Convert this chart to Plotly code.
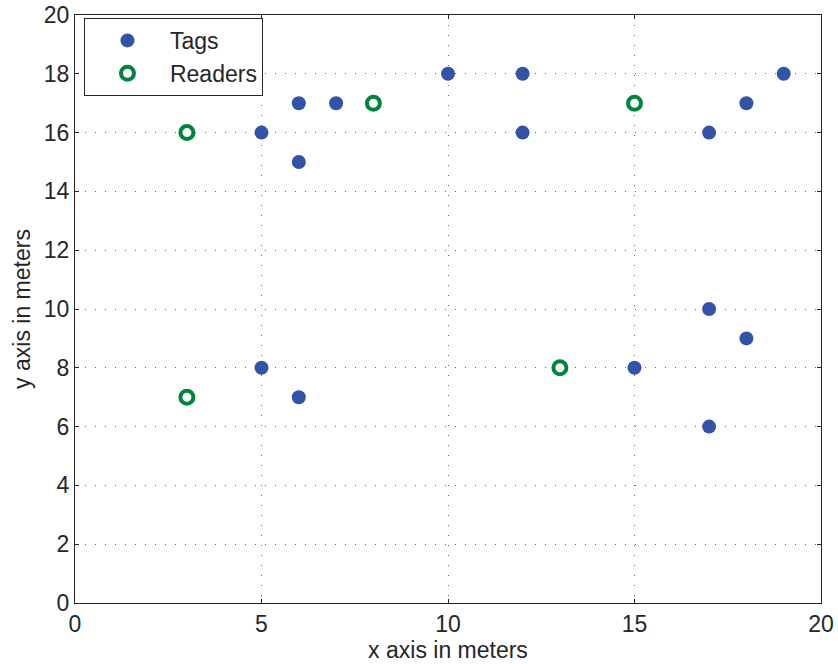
import plotly.graph_objects as go

tags_x = [5, 6, 6, 7, 10, 12, 12, 17, 18, 19, 5, 6, 15, 17, 18, 17]
tags_y = [16, 17, 15, 17, 18, 18, 16, 16, 17, 18, 8, 7, 8, 10, 9, 6]
readers_x = [3, 8, 15, 3, 13]
readers_y = [16, 17, 17, 7, 8]

TXT = "#262626"
FS = 23
fig = go.Figure()
fig.add_trace(go.Scatter(x=tags_x, y=tags_y, mode="markers", name="Tags",
                         marker=dict(size=14, color="#3253A8", line=dict(width=0))))
fig.add_trace(go.Scatter(x=readers_x, y=readers_y, mode="markers", name="Readers",
                         marker=dict(size=13, color="white", symbol="circle",
                                     line=dict(width=4, color="#00843D"))))

axis_common = dict(showline=True, linecolor=TXT, linewidth=1, mirror="ticks",
                   ticks="inside", ticklen=4, tickcolor=TXT, automargin=False,
                   showgrid=True, gridcolor="#666666", griddash="1px,9px", gridwidth=1,
                   zeroline=False, tickfont=dict(size=FS, color=TXT))
fig.update_xaxes(range=[0, 20], dtick=5,
                 title=dict(text="x axis in meters", font=dict(size=FS, color=TXT), standoff=4),
                 **axis_common)
fig.update_yaxes(range=[0, 20], dtick=2,
                 title=dict(text="y axis in meters", font=dict(size=FS, color=TXT), standoff=6),
                 **axis_common)

fig.update_layout(
    width=838, height=664,
    margin=dict(l=75, r=17, t=15, b=61),
    paper_bgcolor="white", plot_bgcolor="white",
    font=dict(family="Liberation Sans, Arial, sans-serif", size=FS, color=TXT),
    showlegend=True,
    legend=dict(x=0.012, y=0.995, xanchor="left", yanchor="top",
                bgcolor="white", bordercolor=TXT, borderwidth=1,
                font=dict(size=FS, color=TXT), itemwidth=75, tracegroupgap=0),
)
fig.write_html("out.html")
